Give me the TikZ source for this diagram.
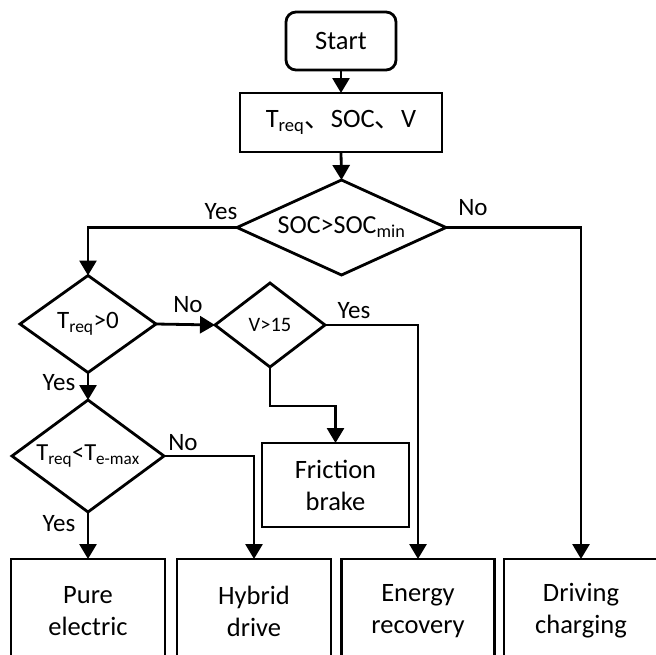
\documentclass[tikz,border=0pt]{standalone}
\usepackage{fontspec}
\setmainfont{Carlito}
\newfontfamily\cjk{Noto Sans CJK SC}
\usetikzlibrary{shapes.geometric,arrows.meta}
\tikzset{
  ln/.style={line width=2.8pt},
  arr/.style={ln,-{Triangle[width=17pt,length=15pt]}},
  boxnode/.style={draw,ln,inner sep=0pt,outer sep=0pt,align=center,font=\fontsize{26.5}{32}\selectfont},
  dia/.style={draw,ln,diamond,inner sep=0pt,outer sep=0pt},
  lbl/.style={inner sep=0pt,font=\fontsize{25}{30}\selectfont},
}
\begin{document}
\begin{tikzpicture}[x=1pt,y=-1pt]
\clip (0,0) rectangle (656,654);
\useasboundingbox (0,0) rectangle (656,654);
% boxes
\node[boxnode,rounded corners=10pt,minimum width=110pt,minimum height=58pt] (start) at (341,41) {Start};
\node[boxnode,minimum width=202pt,minimum height=59pt] (in) at (341,122.5) {T\textsubscript{req}{\cjk 、}SOC{\cjk 、}V};
\node[dia,minimum width=209pt,minimum height=95pt,label={[font=\fontsize{26}{30}\selectfont]center:SOC>SOC\textsubscript{min}}] (d1) at (341.5,227.5) {};
\node[dia,minimum width=136pt,minimum height=97pt,label={[font=\fontsize{25}{30}\selectfont]center:T\textsubscript{req}>0}] (d2) at (88,324) {};
\node[dia,minimum width=110pt,minimum height=84pt,label={[font=\fontsize{20.5}{24}\selectfont]center:V>15}] (d3) at (270,325) {};
\node[dia,minimum width=152pt,minimum height=112pt,label={[font=\fontsize{24.5}{28}\selectfont]center:T\textsubscript{req}<T\textsubscript{e-max}}] (d4) at (88,456) {};
\node[boxnode,minimum width=147pt,minimum height=84pt] (fb) at (335.5,485) {Friction\\brake};
\node[boxnode,minimum width=154pt,minimum height=104pt] (pe) at (88,611) {Pure\\electric};
\node[boxnode,minimum width=154pt,minimum height=104pt] (hd) at (254,611) {Hybrid\\drive};
\node[boxnode,minimum width=153pt,minimum height=104pt] (er) at (418,611) {Energy\\recovery};
\node[boxnode,minimum width=154pt,minimum height=104pt] (dc) at (581,611) {Driving\\charging};
% labels
\node[lbl] (y1) at (221,212) {Yes};
\node[lbl] (n1) at (473,208) {No};
\node[lbl] (n2) at (188,305) {No};
\node[lbl] (y2) at (354,311) {Yes};
\node[lbl] (y3) at (59,383) {Yes};
\node[lbl] (n3) at (183,443) {No};
\node[lbl] (y4) at (59,524) {Yes};
% connectors
\draw[arr] (start.south) -- (in.north);
\draw[arr] (in.south) -- (d1.north);
\draw[arr] (d1.west) -| (d2.north);
\draw[arr] (d1.east) -| (dc.north);
\draw[arr] (d2.east) -- (d3.west);
\draw[arr] (d2.south) -- (d4.north);
\draw[arr] (d3.east) -| (er.north);
\draw[arr] (d3.south) -- ++(0,39) -| (fb.north);
\draw[arr] (d4.east) -| (hd.north);
\draw[arr] (d4.south) -- (pe.north);
\end{tikzpicture}
\end{document}
